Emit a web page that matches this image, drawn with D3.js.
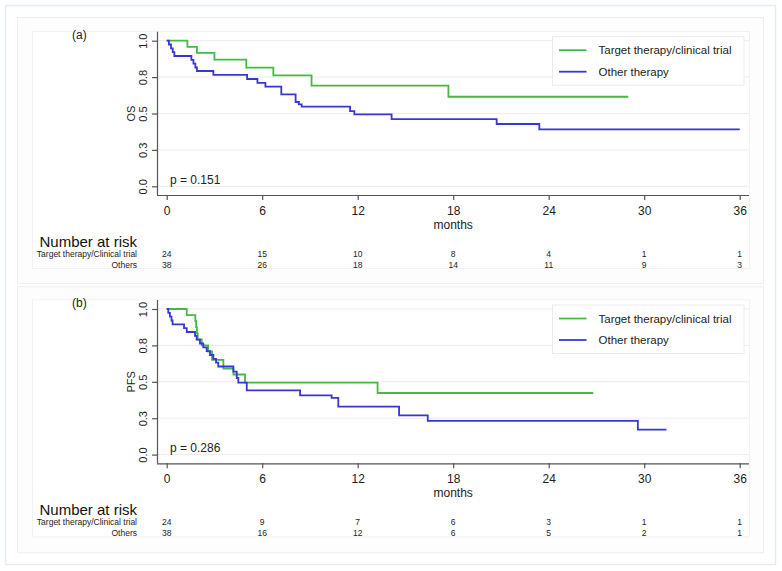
<!DOCTYPE html>
<html>
<head>
<meta charset="utf-8" />
<style>
body {
  margin: 0;
  background-color: white;
}
svg {
  display: block;
  font-family: "Liberation Sans", Arial, sans-serif;
}
.axis path,
.axis line {
  fill: none;
  stroke: #555;
  stroke-width: 1.2;
}
.axis text {
  fill: #222;
}
</style>
<script src="https://cdnjs.cloudflare.com/ajax/libs/d3/7.8.5/d3.min.js"></script>
</head>
<body>
<div id="svg-chart"></div>

<script>
// ticks
var monthTicks = [0, 6, 12, 18, 24, 30, 36];
var survTicks = [0, 0.25, 0.5, 0.75, 1];
var survLabels = ["0.0", "0.3", "0.5", "0.8", "1.0"];

var seriesNames = ["Target therapy/clinical trial", "Other therapy"];
var riskNames = ["Target therapy/Clinical trial", "Others"];

// OS curves, [month, survival], last point = end of follow-up
var osTarget = [[0, 1], [1.3, 0.958], [1.9, 0.917], [3.0, 0.870], [5.0, 0.815],
  [6.7, 0.762], [9.1, 0.692], [17.7, 0.615], [29.0, 0.615]];
var osOther = [[0, 1], [0.14, 0.974], [0.27, 0.947], [0.38, 0.921], [0.48, 0.895],
  [1.55, 0.868], [1.68, 0.842], [1.8, 0.816], [1.9, 0.792], [2.93, 0.765],
  [5.05, 0.737], [5.7, 0.711], [6.2, 0.684], [7.2, 0.632], [8.1, 0.579],
  [8.3, 0.563], [8.48, 0.547], [11.52, 0.517], [11.79, 0.494], [14.13, 0.462],
  [20.73, 0.428], [23.41, 0.391], [36.0, 0.391]];

// PFS curves
var pfsTarget = [[0, 1], [1.26, 0.958], [1.8, 0.917], [1.85, 0.875], [1.9, 0.833],
  [1.95, 0.792], [2.2, 0.75], [2.6, 0.708], [2.85, 0.65], [3.56, 0.59],
  [4.19, 0.55], [4.92, 0.494], [13.25, 0.423], [26.8, 0.423]];
var pfsOther = [[0, 1], [0.1, 0.974], [0.2, 0.947], [0.3, 0.921], [0.37, 0.895],
  [1.09, 0.868], [1.26, 0.842], [1.78, 0.816], [1.88, 0.789], [2.09, 0.763],
  [2.3, 0.737], [2.51, 0.711], [2.72, 0.684], [2.93, 0.658], [3.1, 0.632],
  [3.24, 0.605], [4.19, 0.57], [4.4, 0.526], [4.5, 0.494], [5.03, 0.441],
  [8.38, 0.407], [10.36, 0.39], [10.78, 0.33], [14.6, 0.27], [16.4, 0.232],
  [29.6, 0.172], [31.4, 0.172]];

// number at risk at each month tick
var osRiskTarget = [24, 15, 10, 8, 4, 1, 1];
var osRiskOther = [38, 26, 18, 14, 11, 9, 3];
var pfsRiskTarget = [24, 9, 7, 6, 3, 1, 1];
var pfsRiskOther = [38, 16, 12, 6, 5, 2, 1];

var panels = [
  { tag: "(a)", ylab: "OS", p: "p = 0.151", curves: [osTarget, osOther], risk: [osRiskTarget, osRiskOther], dy: 0 },
  { tag: "(b)", ylab: "PFS", p: "p = 0.286", curves: [pfsTarget, pfsOther], risk: [pfsRiskTarget, pfsRiskOther], dy: 268.3 }
];

var colors = ["#46b846", "#3737d4"];

var svg = d3.select("#svg-chart")
  .append("svg")
  .attr("width", 782)
  .attr("height", 571);

// outer frame
svg.append("rect")
  .attr("x", 5.5).attr("y", 5.5)
  .attr("width", 770).attr("height", 559)
  .attr("fill", "white")
  .attr("stroke", "#e2eded")
  .attr("stroke-width", 1.5);

var xScale = d3.scaleLinear().domain([0, 36]).range([166.7, 739.7]);

panels.forEach(function(pn, k) {
  var g = svg.append("g").attr("transform", "translate(0," + pn.dy + ")");

  // panel box
  g.append("rect")
    .attr("x", 17.5).attr("y", k == 0 ? 17.5 : 18.5)
    .attr("width", 746).attr("height", 266)
    .attr("fill", "#fdfdfd")
    .attr("stroke", "#ededed");
  g.append("rect")
    .attr("x", 32.5).attr("y", 31.5)
    .attr("width", 717).attr("height", 237)
    .attr("fill", "white")
    .attr("stroke", "#f2f2f2");

  var yScale = d3.scaleLinear().domain([0, 1]).range([186.3, 40.7]);

  // grid
  g.selectAll(".grid")
    .data(survTicks)
    .enter().append("line")
    .attr("x1", 157).attr("x2", 749)
    .attr("y1", function(d) { return yScale(d) })
    .attr("y2", function(d) { return yScale(d) })
    .attr("stroke", "#ececec")
    .attr("stroke-width", 1);

  // axes
  var xAxis = d3.axisBottom(xScale).tickValues(monthTicks).tickSize(5).tickPadding(6).tickSizeOuter(0);
  var gx = g.append("g")
    .attr("class", "axis")
    .attr("transform", "translate(0,195)")
    .call(xAxis);
  gx.select(".domain").attr("d", "M157,0.5H749");
  gx.selectAll("text").attr("font-size", "12px");

  var yAxis = d3.axisLeft(yScale).tickValues(survTicks).tickSize(5).tickSizeOuter(0)
    .tickFormat(function(d, i) { return survLabels[i] });
  var gy = g.append("g")
    .attr("class", "axis")
    .attr("transform", "translate(157,0)")
    .call(yAxis);
  gy.select(".domain").attr("d", "M0.5,31.7V195");
  gy.selectAll("text")
    .attr("font-size", "11px")
    .attr("text-anchor", "middle")
    .attr("x", 0).attr("y", -10).attr("dy", 0)
    .attr("transform", "rotate(-90)");

  // axis titles
  g.append("text")
    .attr("transform", "translate(135," + yScale(0.5) + ")rotate(-90)")
    .attr("text-anchor", "middle")
    .attr("font-size", "11px")
    .attr("fill", "#222")
    .text(pn.ylab);

  g.append("text")
    .attr("x", xScale(18)).attr("y", 228.5)
    .attr("text-anchor", "middle")
    .attr("font-size", "12px")
    .attr("fill", "#222")
    .text("months");

  g.append("text")
    .attr("x", 72).attr("y", 39)
    .attr("font-size", "12px")
    .attr("fill", "#222")
    .text(pn.tag);

  g.append("text")
    .attr("x", 170).attr("y", 184)
    .attr("font-size", "12px")
    .attr("fill", "#222")
    .text(pn.p);

  // curves
  var line = d3.line()
    .x(function(d) { return xScale(d[0]) })
    .y(function(d) { return yScale(d[1]) })
    .curve(d3.curveStepAfter);

  pn.curves.forEach(function(c, i) {
    g.append("path")
      .datum(c)
      .attr("d", line)
      .attr("fill", "none")
      .attr("stroke", colors[i])
      .attr("stroke-width", 1.8);
  });

  // legend
  var lx = 552.5, ly = 36.7;
  g.append("rect")
    .attr("x", lx).attr("y", ly)
    .attr("width", 191.5).attr("height", 48.5)
    .attr("fill", "white")
    .attr("stroke", "#ebebeb");
  seriesNames.forEach(function(name, i) {
    var yy = ly + 13.5 + i * 21.5;
    g.append("line")
      .attr("x1", lx + 6.5).attr("x2", lx + 34)
      .attr("y1", yy).attr("y2", yy)
      .attr("stroke", colors[i])
      .attr("stroke-width", 1.8);
    g.append("text")
      .attr("x", lx + 46).attr("y", yy + 4.2)
      .attr("font-size", "11.5px")
      .attr("fill", "#222")
      .text(name);
  });

  // number at risk table
  g.append("text")
    .attr("x", 137).attr("y", 246.5)
    .attr("text-anchor", "end")
    .attr("font-size", "15px")
    .attr("fill", "#111")
    .text("Number at risk");

  riskNames.forEach(function(name, i) {
    var yy = 256.7 + i * 11;
    g.append("text")
      .attr("x", 137).attr("y", yy)
      .attr("text-anchor", "end")
      .attr("font-size", "8.5px")
      .attr("fill", "#222")
      .text(name);
    g.selectAll(".risk" + i)
      .data(pn.risk[i])
      .enter().append("text")
      .attr("x", function(d, j) { return xScale(monthTicks[j]) })
      .attr("y", yy)
      .attr("text-anchor", "middle")
      .attr("font-size", "8.5px")
      .attr("fill", "#222")
      .text(function(d) { return d });
  });
});
</script>
</body>
</html>
